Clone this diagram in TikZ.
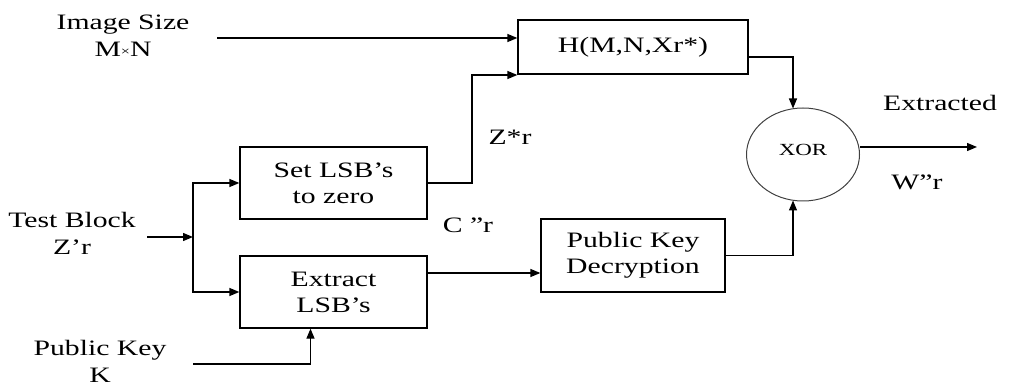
\documentclass[tikz,border=0pt]{standalone}
\usepackage{fontspec}
\setmainfont[FakeStretch=1.35]{Liberation Serif}
\usetikzlibrary{arrows.meta,shapes.geometric}
\tikzset{
  arr/.style={line width=1.3pt,-{Triangle[length=10pt,width=8pt]}},
  blk/.style={draw,line width=1.3pt,inner sep=0pt,align=center,font=\fontsize{22}{26}\selectfont},
  lbl/.style={inner sep=0pt,align=center,font=\fontsize{22}{27}\selectfont}
}
\begin{document}
\begin{tikzpicture}[x=1pt,y=-1pt]
\useasboundingbox (0,0) rectangle (1009,387);
% blocks
\node[blk,minimum width=230pt,minimum height=54pt] (H) at (633,47) {H(M,N,Xr*)};
\node[blk,minimum width=187pt,minimum height=72pt] (S) at (333.5,183) {Set LSB’s\\to zero};
\node[blk,minimum width=187pt,minimum height=72pt] (E) at (333.5,292) {Extract\\LSB’s};
\node[blk,minimum width=184pt,minimum height=73pt] (P) at (633,255.5) {Public Key\\Decryption};
\node[ellipse,draw=black!75,line width=1pt,minimum width=113pt,minimum height=93pt,inner sep=0pt,font=\fontsize{17}{18}\selectfont] (X) at (803,154.5) {\raisebox{9pt}{XOR}};
% labels
\node[lbl] (img) at (123,36) {Image Size\\M\raisebox{1pt}{\fontsize{12}{12}\selectfont×}N};
\node[lbl] (tb) at (72,233) {Test Block\\Z’r};
\node[lbl] (pk) at (100,361) {Public Key\\K};
\node[lbl] (zs) at (510,137) {Z*r};
\node[lbl] (cr) at (468,225) {C ”r};
\node[lbl] (ex) at (940,103) {Extracted};
\node[lbl] (wr) at (917,182) {W”r};
% free ends
\coordinate (imgend) at (217,38);
\coordinate (tbend) at (147,237);
\coordinate (j) at (193,237);
\coordinate (pkend) at (193,364);
\coordinate (zb) at (472,75);
\coordinate (outend) at (977,147);
% connectors
\draw[arr] (imgend) -- (imgend -| H.west);
\draw[arr] (S.east) -| (zb) -- (zb -| H.west);
\draw[arr] ([yshift=-10pt]H.east) -| ([xshift=-10pt,yshift=-1pt]X.north);
\draw[arr] (tbend) -- (j);
\draw[arr] (j) |- (S.west);
\draw[arr] (j) |- (E.west);
\draw[arr] (pkend) -| ([xshift=-23pt]E.south);
\draw[arr] ([yshift=19pt]E.east) -- ([yshift=19pt]E.east -| P.west);
\draw[arr] (P.east) -| ([xshift=-10pt,yshift=1pt]X.south);
\draw[arr] ([yshift=7.5pt]X.east) -- (outend);
\end{tikzpicture}
\end{document}
